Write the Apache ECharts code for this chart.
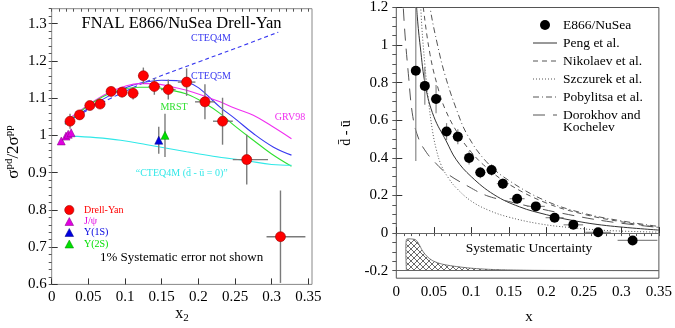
<!DOCTYPE html>
<html><head><meta charset="utf-8">
<script src="https://cdn.jsdelivr.net/npm/echarts@6/dist/echarts.min.js"></script>
<style>html,body{margin:0;padding:0;background:#fff}#c{width:675px;height:328px}</style>
</head><body><div id="c"></div>
<script>
// ---------- LEFT PANEL DATA ----------
const dyX   = [0.025,0.038,0.052,0.066,0.081,0.096,0.111,0.125,0.140,0.159,0.184,0.209,0.233,0.266,0.312];
const dyY   = [1.038,1.055,1.080,1.084,1.118,1.116,1.113,1.160,1.131,1.123,1.143,1.090,1.038,0.935,0.728];
const dyEy  = [0.020,0.012,0.012,0.012,0.013,0.014,0.017,0.022,0.022,0.027,0.037,0.047,0.063,0.067,0.124];
const dyExL = [0.005,0.006,0.007,0.007,0.007,0.007,0.007,0.007,0.008,0.010,0.012,0.0135,0.013,0.019,0.019];
const dyExH = [0.005,0.006,0.007,0.007,0.007,0.007,0.007,0.007,0.008,0.010,0.012,0.0135,0.014,0.029,0.034];
const jpsiX = [0.013,0.0195,0.0225,0.0265];
const jpsiY = [0.985,0.998,1.003,1.007];
const y1sX = [0.146], y1sY = [0.987], y1sEy = [0.036];
const y2sX = [0.1545], y2sY = [1.000], y2sEy = [0.058];
const cteq4mX = [0.018,0.04,0.06,0.08,0.10,0.13,0.20,0.25,0.309];
const cteq4mY = [1.034,1.058,1.079,1.099,1.118,1.145,1.197,1.233,1.277];
const cteq5mX = [0.018,0.04,0.06,0.08,0.10,0.12,0.15,0.17,0.184,0.20,0.2295,0.25,0.275,0.302,0.327];
const cteq5mY = [1.030,1.060,1.085,1.108,1.127,1.140,1.148,1.147,1.143,1.128,1.076,1.045,1.005,0.969,0.947];
const grvX = [0.018,0.04,0.06,0.08,0.10,0.12,0.139,0.16,0.184,0.21,0.2295,0.25,0.275,0.30,0.327];
const grvY = [1.036,1.068,1.095,1.117,1.132,1.139,1.139,1.132,1.121,1.104,1.090,1.073,1.054,1.025,0.991];
const mrstX = [0.018,0.04,0.06,0.08,0.10,0.12,0.139,0.16,0.184,0.21,0.2295,0.25,0.275,0.30,0.327];
const mrstY = [1.030,1.065,1.093,1.113,1.125,1.129,1.129,1.122,1.111,1.085,1.059,1.025,0.987,0.950,0.917];
const cteq0X = [0.0255,0.06,0.094,0.13,0.184,0.22,0.266,0.30,0.327];
const cteq0Y = [0.998,0.994,0.987,0.975,0.956,0.944,0.932,0.922,0.920];
const leftXTicks = [0,0.05,0.1,0.15,0.2,0.25,0.3,0.35];
const leftYTicks = [0.6,0.7,0.8,0.9,1,1.1,1.2,1.3];

// ---------- RIGHT PANEL DATA ----------
const e866X   = [0.026,0.038,0.053,0.067,0.082,0.097,0.112,0.127,0.142,0.161,0.186,0.211,0.236,0.269,0.315];
const e866Y   = [0.864,0.783,0.713,0.540,0.513,0.400,0.322,0.336,0.263,0.183,0.142,0.082,0.044,0.004,-0.039];
const e866Ey  = [0.48,0.10,0.075,0.045,0.040,0.035,0.030,0.030,0.028,0.025,0.022,0.020,0.020,0.018,0.020];
const e866ExL = [0.005,0.006,0.007,0.007,0.007,0.007,0.007,0.007,0.008,0.010,0.012,0.012,0.013,0.017,0.020];
const e866ExH = [0.005,0.006,0.007,0.007,0.007,0.007,0.007,0.007,0.008,0.010,0.012,0.012,0.013,0.017,0.033];
const pengX = [0.0255,0.028,0.032,0.039,0.05,0.0665,0.08,0.10,0.13,0.164,0.20,0.234,0.28,0.35];
const pengY = [1.30,1.15,0.99,0.78,0.62,0.49,0.39,0.30,0.205,0.14,0.098,0.068,0.040,0.016];
const nikX = [0.034,0.036,0.045,0.055,0.065,0.082,0.10,0.12,0.15,0.20,0.25,0.30,0.35];
const nikY = [1.30,1.20,0.95,0.78,0.66,0.53,0.43,0.35,0.26,0.16,0.10,0.06,0.03];
const szcX = [0.0315,0.034,0.038,0.043,0.048,0.053,0.06,0.07,0.08,0.10,0.124,0.15,0.19,0.23,0.28,0.35];
const szcY = [1.30,1.10,0.90,0.70,0.55,0.45,0.36,0.29,0.24,0.17,0.12,0.085,0.05,0.03,0.014,0.005];
const pobX = [0.043,0.045,0.055,0.065,0.08,0.095,0.12,0.15,0.20,0.25,0.30,0.35];
const pobY = [1.30,1.20,1.00,0.84,0.66,0.52,0.38,0.28,0.17,0.105,0.065,0.035];
const dorX = [0.008,0.011,0.016,0.022,0.03,0.04,0.049,0.0665,0.097,0.12,0.146,0.18,0.22,0.28,0.35];
const dorY = [1.30,1.09,0.85,0.62,0.50,0.43,0.387,0.32,0.246,0.20,0.172,0.14,0.106,0.063,0.03];
const sysX   = [0.0135,0.025,0.028,0.031,0.034,0.037,0.040,0.044,0.049,0.055,0.062,0.07,0.08,0.095,0.11,0.13,0.15,0.18,0.22,0.35];
const sysTop = [-0.034,-0.034,-0.045,-0.065,-0.088,-0.106,-0.12,-0.135,-0.148,-0.158,-0.166,-0.172,-0.178,-0.185,-0.19,-0.194,-0.196,-0.198,-0.199,-0.2];
const sysBase = -0.2;
const rightXTicks = [0,0.05,0.1,0.15,0.2,0.25,0.3,0.35];
const rightYTicks = [-0.2,0,0.2,0.4,0.6,0.8,1,1.2];

// ---------- helpers ----------
const FONT = 'Liberation Serif';
const zip = (a,b) => a.map((v,i)=>[v,b[i]]);
function steps(a,b,s){const r=[];for(let v=a;v<=b+1e-9;v+=s)r.push(+v.toFixed(4));return r;}
function errRender(color, lw){
  return function(params, api){
    const x=api.value(0), y=api.value(1), xl=api.value(2), xh=api.value(3), ey=api.value(4);
    const cs=params.coordSys, top=cs.y, bot=cs.y+cs.height;
    const cl=v=>Math.max(top,Math.min(bot,v));
    const a=api.coord([x-xl,y]), b=api.coord([x+xh,y]), c=api.coord([x,y-ey]), d=api.coord([x,y+ey]);
    return {type:'group',children:[
      {type:'line',shape:{x1:a[0],y1:a[1],x2:b[0],y2:b[1]},style:{stroke:color,lineWidth:lw}},
      {type:'line',shape:{x1:c[0],y1:cl(c[1]),x2:d[0],y2:cl(d[1])},style:{stroke:color,lineWidth:lw}}
    ]};
  };
}
function errSeries(xi,yi,xs,ys,xl,xh,ey,color,lw){
  return {type:'custom',xAxisIndex:xi,yAxisIndex:yi,renderItem:errRender(color,lw),
    data:xs.map((v,i)=>[v,ys[i],xl?xl[i]:0,xh?xh[i]:0,ey[i]]),encode:{x:0,y:1},z:3,silent:true};
}
function curve(xi,yi,xs,ys,color,type,w){
  return {type:'line',xAxisIndex:xi,yAxisIndex:yi,data:zip(xs,ys),symbol:'none',smooth:0.4,
    lineStyle:{color:color,width:w||1.1,type:type||'solid'},z:2,silent:true,clip:true};
}
const hatch = document.createElement('canvas');
hatch.width=6;hatch.height=6;
(function(){const g=hatch.getContext('2d');g.strokeStyle='#444';g.lineWidth=0.8;
g.beginPath();g.moveTo(0,0);g.lineTo(6,6);g.moveTo(6,0);g.lineTo(0,6);g.stroke();})();

const lab = {fontFamily:FONT,fontSize:15,color:'#000'};
function mainX(gi,min,max,ticks,margin){
  return {type:'value',gridIndex:gi,min:min,max:max,splitLine:{show:false},axisLine:{show:false},
    axisTick:{show:true,inside:true,length:6,customValues:ticks,lineStyle:{color:'#333'}},
    axisLabel:Object.assign({customValues:ticks,margin:margin,showMinLabel:true,showMaxLabel:true},lab)};
}
function minorX(gi,min,max,ticks,len){
  return {type:'value',gridIndex:gi,min:min,max:max,splitLine:{show:false},axisLine:{show:false},
    axisTick:{show:true,inside:true,length:len,customValues:ticks,lineStyle:{color:'#555'}},axisLabel:{show:false}};
}

const chart = echarts.init(document.getElementById('c'),null,{renderer:'canvas'});
const option = {
  animation:false,
  grid:[
    {left:51.7,top:8.7,width:260.3,height:275.7,show:true,borderColor:'#888',borderWidth:1,backgroundColor:'transparent'},
    {left:396.3,top:7,width:265.2,height:271.2,show:true,borderColor:'#555',borderWidth:1,backgroundColor:'transparent'}
  ],
  xAxis:[
    mainX(0,0,0.355,leftXTicks,5),
    minorX(0,0,0.355,steps(0,0.35,0.01),3),
    mainX(1,0,0.35,rightXTicks,6),
    minorX(1,0,0.35,steps(0,0.35,0.01),3)
  ],
  yAxis:[
    mainX(0,0.6,1.34,leftYTicks,5),
    minorX(0,0.6,1.34,steps(0.6,1.34,0.02),3),
    mainX(1,-0.24,1.2,rightYTicks,8),
    minorX(1,-0.24,1.2,steps(-0.2,1.2,0.05),4)
  ],
  series:[
    // left curves
    curve(0,0,cteq4mX,cteq4mY,'#3838f0',[4,3],1.1),
    curve(0,0,cteq5mX,cteq5mY,'#3838f0','solid',1.1),
    curve(0,0,grvX,grvY,'#f030f0','solid',1.1),
    curve(0,0,mrstX,mrstY,'#30e030','solid',1.1),
    curve(0,0,cteq0X,cteq0Y,'#30e8e8','solid',1.1),
    errSeries(0,0,dyX,dyY,dyExL,dyExH,dyEy,'#7a7a7a',1.4),
    errSeries(0,0,y1sX,y1sY,null,null,y1sEy,'#7a7a7a',1.4),
    errSeries(0,0,y2sX,y2sY,null,null,y2sEy,'#9a9a9a',1.8),
    {type:'scatter',xAxisIndex:0,yAxisIndex:0,data:zip(dyX,dyY),symbol:'circle',symbolSize:10,
      itemStyle:{color:'#f00',borderColor:'#900',borderWidth:0.6,opacity:1},z:5},
    {type:'scatter',xAxisIndex:0,yAxisIndex:0,data:zip(jpsiX,jpsiY),symbol:'triangle',symbolSize:8,
      itemStyle:{color:'#e000e0',borderColor:'#800080',borderWidth:0.5,opacity:1},z:5},
    {type:'scatter',xAxisIndex:0,yAxisIndex:0,data:zip(y1sX,y1sY),symbol:'triangle',symbolSize:8,
      itemStyle:{color:'#0000e0',borderColor:'#000080',borderWidth:0.5,opacity:1},z:5},
    {type:'scatter',xAxisIndex:0,yAxisIndex:0,data:zip(y2sX,y2sY),symbol:'triangle',symbolSize:8,
      itemStyle:{color:'#00e000',borderColor:'#008000',borderWidth:0.5,opacity:1},z:5},
    // right: systematic band (one polygon built from the data through the axes)
    {type:'custom',xAxisIndex:2,yAxisIndex:2,data:[[sysX[0],sysTop[0]]],encode:{x:0,y:1},silent:true,z:1,
      renderItem:function(params,api){
        const top=sysX.map((x,i)=>api.coord([x,sysTop[i]]));
        const b0=api.coord([sysX[0],sysBase]), b1=api.coord([sysX[sysX.length-1],sysBase]);
        const pts=[b0].concat(top).concat([b1]);
        return {type:'group',children:[
          {type:'polygon',shape:{points:pts},style:{fill:{image:hatch,repeat:'repeat'},stroke:null}},
          {type:'polyline',shape:{points:[b0].concat(top),smooth:0.2},style:{stroke:'#555',lineWidth:0.8,fill:null}}
        ]};
      }},
    Object.assign(curve(2,2,pengX,pengY,'#333','solid',1),{markLine:{silent:true,symbol:'none',label:{show:false},
      lineStyle:{color:'#666',width:1.2,type:'solid'},data:[{yAxis:0},{yAxis:sysBase}]}}),
    curve(2,2,nikX,nikY,'#555',[5,4],1),
    curve(2,2,szcX,szcY,'#555',[1,2],1),
    curve(2,2,pobX,pobY,'#555',[6,3,1,3],1),
    curve(2,2,dorX,dorY,'#555',[12,8],1),
    errSeries(2,2,e866X,e866Y,e866ExL,e866ExH,e866Ey,'#888',1.2),
    {type:'scatter',xAxisIndex:2,yAxisIndex:2,data:zip(e866X,e866Y),symbol:'circle',symbolSize:10,
      itemStyle:{color:'#000',opacity:1},z:5}
  ],
  graphic:[
    {type:'text',x:181.5,y:24,style:{text:'FNAL E866/NuSea Drell-Yan',font:'16.5px '+FONT,fill:'#000',align:'center',verticalAlign:'middle'}},
    {type:'text',x:211,y:38,style:{text:'CTEQ4M',font:'10px '+FONT,fill:'#3838f0',align:'center',verticalAlign:'middle'}},
    {type:'text',x:211,y:76,style:{text:'CTEQ5M',font:'10px '+FONT,fill:'#3838f0',align:'center',verticalAlign:'middle'}},
    {type:'text',x:174,y:107,style:{text:'MRST',font:'10px '+FONT,fill:'#30e030',align:'center',verticalAlign:'middle'}},
    {type:'text',x:290,y:117,style:{text:'GRV98',font:'10px '+FONT,fill:'#f030f0',align:'center',verticalAlign:'middle'}},
    {type:'text',x:181.7,y:173.5,style:{text:'\u201CCTEQ4M (d\u0304 - \u016B = 0)\u201D',font:'10px '+FONT,fill:'#30e8e8',align:'center',verticalAlign:'middle'}},
    // left legend
    {type:'circle',shape:{cx:69.3,cy:210,r:4.6},style:{fill:'#f00',stroke:'#900',lineWidth:0.6}},
    {type:'polygon',shape:{points:[[69.3,217.5],[65,225.5],[73.6,225.5]]},style:{fill:'#e000e0',stroke:'#800080',lineWidth:0.5}},
    {type:'polygon',shape:{points:[[69.3,228.5],[65,236.5],[73.6,236.5]]},style:{fill:'#0000e0',stroke:'#000080',lineWidth:0.5}},
    {type:'polygon',shape:{points:[[69.3,240],[65,248],[73.6,248]]},style:{fill:'#00e000',stroke:'#008000',lineWidth:0.5}},
    {type:'text',x:84,y:210,style:{text:'Drell-Yan',font:'10px '+FONT,fill:'#f00',verticalAlign:'middle'}},
    {type:'text',x:84,y:221.7,style:{text:'J/\u03C8',font:'10px '+FONT,fill:'#e000e0',verticalAlign:'middle'}},
    {type:'text',x:84,y:232.7,style:{text:'\u03A5(1S)',font:'10px '+FONT,fill:'#0000e0',verticalAlign:'middle'}},
    {type:'text',x:84,y:244,style:{text:'\u03A5(2S)',font:'10px '+FONT,fill:'#00e000',verticalAlign:'middle'}},
    {type:'text',x:100,y:258,style:{text:'1% Systematic error not shown',font:'13px '+FONT,fill:'#000',verticalAlign:'middle'}},
    // axis titles
    {type:'text',x:14,y:152,rotation:Math.PI/2,style:{text:'{s|\u03C3}{p|pd}{s|/2\u03C3}{p|pp}',align:'center',verticalAlign:'middle',
      rich:{s:{fontFamily:FONT,fontSize:17,fill:'#000'},p:{fontFamily:FONT,fontSize:11,fill:'#000',padding:[0,0,9,0]}}}},
    {type:'text',x:182,y:314,style:{text:'{s|x}{b|2}',align:'center',verticalAlign:'middle',
      rich:{s:{fontFamily:FONT,fontSize:16,fill:'#000'},b:{fontFamily:FONT,fontSize:11,fill:'#000',padding:[8,0,0,0]}}}},
    {type:'text',x:529,y:317,style:{text:'x',font:'15px '+FONT,fill:'#000',align:'center',verticalAlign:'middle'}},
    {type:'text',x:346,y:133,rotation:Math.PI/2,style:{text:'d\u0304 - \u016B',font:'14px '+FONT,fill:'#000',align:'center',verticalAlign:'middle'}},
    {type:'text',x:529,y:248,style:{text:'Systematic Uncertainty',font:'13.5px '+FONT,fill:'#000',align:'center',verticalAlign:'middle'}},
    // right legend
    {type:'circle',shape:{cx:545,cy:25,r:5},style:{fill:'#000'}},
    {type:'line',shape:{x1:533,y1:43,x2:557,y2:43},style:{stroke:'#333',lineWidth:1}},
    {type:'line',shape:{x1:533,y1:61,x2:557,y2:61},style:{stroke:'#555',lineWidth:1,lineDash:[5,4]}},
    {type:'line',shape:{x1:533,y1:79,x2:557,y2:79},style:{stroke:'#555',lineWidth:1,lineDash:[1,2]}},
    {type:'line',shape:{x1:533,y1:97,x2:557,y2:97},style:{stroke:'#555',lineWidth:1,lineDash:[6,3,1,3]}},
    {type:'line',shape:{x1:533,y1:115,x2:557,y2:115},style:{stroke:'#555',lineWidth:1,lineDash:[12,8]}},
    {type:'text',x:563,y:25,style:{text:'E866/NuSea',font:'13.5px '+FONT,fill:'#000',verticalAlign:'middle'}},
    {type:'text',x:563,y:43,style:{text:'Peng et al.',font:'13.5px '+FONT,fill:'#000',verticalAlign:'middle'}},
    {type:'text',x:563,y:61,style:{text:'Nikolaev et al.',font:'13.5px '+FONT,fill:'#000',verticalAlign:'middle'}},
    {type:'text',x:563,y:79,style:{text:'Szczurek et al.',font:'13.5px '+FONT,fill:'#000',verticalAlign:'middle'}},
    {type:'text',x:563,y:97,style:{text:'Pobylitsa et al.',font:'13.5px '+FONT,fill:'#000',verticalAlign:'middle'}},
    {type:'text',x:563,y:115,style:{text:'Dorokhov and',font:'13.5px '+FONT,fill:'#000',verticalAlign:'middle'}},
    {type:'text',x:563,y:127,style:{text:'Kochelev',font:'13.5px '+FONT,fill:'#000',verticalAlign:'middle'}}
  ]
};
chart.setOption(option);
</script></body></html>
